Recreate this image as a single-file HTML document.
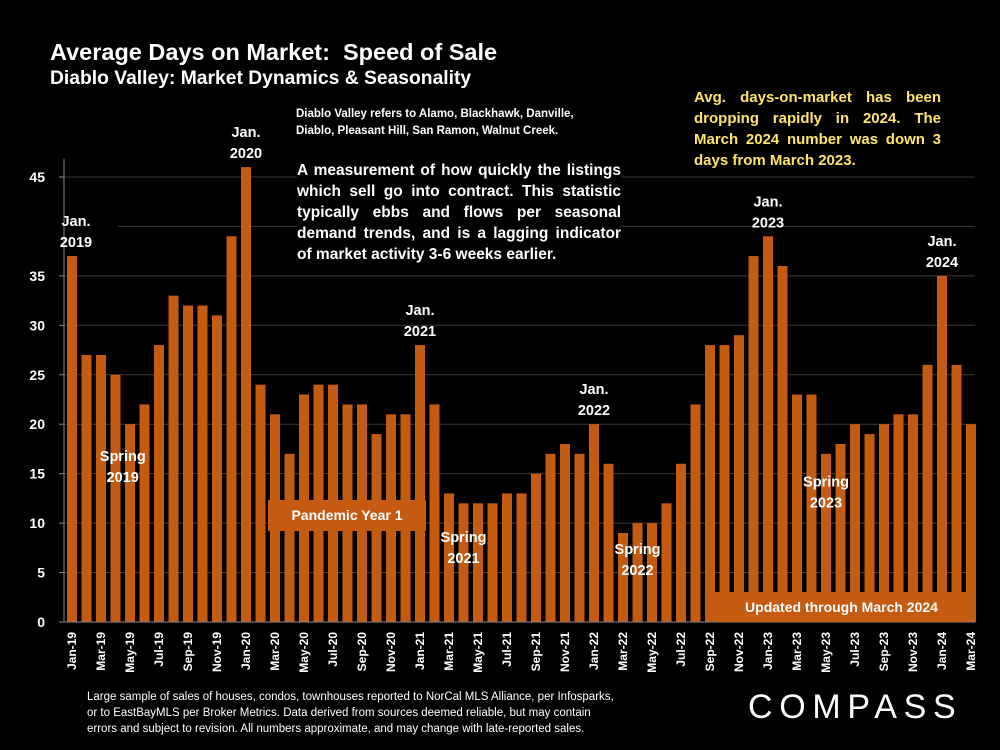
<!DOCTYPE html>
<html><head><meta charset="utf-8"><style>
body{margin:0;background:#000;width:1000px;height:750px;overflow:hidden;font-family:"Liberation Sans",sans-serif;color:#fff}
.t{position:absolute;font-weight:bold;color:#fff}
</style></head><body>
<svg width="1000" height="750" style="position:absolute;left:0;top:0">
<g id="grid"></g><g id="bars"></g><g id="axes"></g><g id="labels"></g>
</svg>
<div class="t" style="left:50px;top:39px;font-size:23.5px">Average Days on Market:&nbsp; Speed of Sale</div>
<div class="t" style="left:50px;top:68px;font-size:19.3px">Diablo Valley: Market Dynamics &amp; Seasonality</div>
<div class="t" style="left:296px;top:106px;font-size:11.5px;line-height:17px;background:#000;width:330px">Diablo Valley refers to Alamo, Blackhawk, Danville,<br>Diablo, Pleasant Hill, San Ramon, Walnut Creek.</div>
<div class="t" style="left:297px;top:160px;font-size:15.5px;line-height:21px;background:#000;width:324px;text-align:justify">A measurement of how quickly the listings which sell go into contract. This statistic typically ebbs and flows per seasonal demand trends, and is a lagging indicator of market activity 3-6 weeks earlier.</div>
<div class="t" style="left:694px;top:87px;font-size:15px;line-height:21px;color:#ffe36b;width:247px;text-align:justify;background:#000">Avg. days-on-market has been dropping rapidly in 2024. The March 2024 number was down 3 days from March 2023.</div>
<div class="t" style="left:268px;top:500px;width:158px;height:31px;background:#c55a11;font-size:14px;line-height:31px;text-align:center">Pandemic Year 1</div>
<div class="t" style="left:713px;top:592px;width:257px;height:30px;background:#c55a11;font-size:14px;line-height:30px;text-align:center">Updated through March 2024</div>
<div class="t" style="left:87px;top:689px;font-size:11.5px;line-height:16px;font-weight:normal">Large sample of sales of houses, condos, townhouses reported to NorCal MLS Alliance, per Infosparks,<br>or to EastBayMLS per Broker Metrics. Data derived from sources deemed reliable, but may contain<br>errors and subject to revision. All numbers approximate, and may change with late-reported sales.</div>
<div class="t" style="left:748px;top:688px;font-size:34px;font-weight:normal;letter-spacing:6.7px">COMPASS</div>
<script>
const months=["Jan","Feb","Mar","Apr","May","Jun","Jul","Aug","Sep","Oct","Nov","Dec"];
const categories=[];for(let y=19;y<=24;y++)for(let m=0;m<12;m++){if(y===24&&m>2)break;categories.push(months[m]+"-"+y);}
const values=[37,27,27,25,20,22,28,33,32,32,31,39,46,24,21,17,23,24,24,22,22,19,21,21,28,22,13,12,12,12,13,13,15,17,18,17,20,16,9,10,10,12,16,22,28,28,29,37,39,36,23,23,17,18,20,19,20,21,21,26,35,26,20];
const yTicks=[0,5,10,15,20,25,30,35,40,45];
const annotations=[["Jan.","2019",0],["Jan.","2020",12],["Jan.","2021",24],["Jan.","2022",36],["Jan.","2023",48],["Jan.","2024",60]];
const springNotes=[["Spring","2019",3.5,16.8],["Spring","2021",27,8.6],["Spring","2022",39,7.4],["Spring","2023",52,14.2]];
const NS="http://www.w3.org/2000/svg";
const y0=622,pxPer=9.89,x0=67,step=14.5,bw=10;
const yS=v=>y0-v*pxPer, xS=i=>x0+i*step;
function mk(t,a,p){const e=document.createElementNS(NS,t);for(const k in a)e.setAttribute(k,a[k]);p.appendChild(e);return e;}
const G=document.getElementById('grid'),B=document.getElementById('bars'),A=document.getElementById('axes'),L=document.getElementById('labels');
yTicks.forEach(v=>{if(v>0){const g=mk('line',{x1:v===40?118:64,x2:975,y1:yS(v),y2:yS(v),stroke:'#3a3a3a','stroke-width':1},G);}
 if(v===40)return;const t=mk('text',{x:45,y:yS(v)+5,fill:'#fff','font-size':14,'font-weight':'bold','text-anchor':'end','font-family':'Liberation Sans'},A);t.textContent=v;
 mk('line',{x1:59,x2:64,y1:yS(v),y2:yS(v),stroke:'#888'},A);});
mk('line',{x1:64,x2:64,y1:159,y2:622,stroke:'#888'},A);
mk('line',{x1:64,x2:975,y1:622,y2:622,stroke:'#888'},A);
values.forEach((v,i)=>{const r=mk('rect',{x:xS(i),y:yS(v),width:bw,height:v*pxPer,fill:'#c55a11'},B);
 
 
 if(i%2===0){const cx=xS(i)+bw/2+4;const t=mk('text',{x:cx,y:632,fill:'#fff','font-size':12,'font-weight':'bold','text-anchor':'end','font-family':'Liberation Sans',transform:`rotate(-90 ${cx} 632)`},A);t.textContent=categories[i];
 
 }});
function two(a,b,cx,ytop,name){[a,b].forEach((s,k)=>{const t=mk('text',{x:cx,y:ytop+k*21,fill:'#fff','font-size':14.5,'font-weight':'bold','text-anchor':'middle','font-family':'Liberation Sans'},L);t.textContent=s;
 
 });}
annotations.forEach(a=>{const i=a[2];two(a[0],a[1],xS(i)+bw/2-(i===0?-4:0),yS(values[i])-30,'annotation-jan-'+a[1]);});
springNotes.forEach(a=>{two(a[0],a[1],xS(a[2])+bw/2,yS(a[3])+5,'annotation-spring-'+a[1]);});
</script>
</body></html>
